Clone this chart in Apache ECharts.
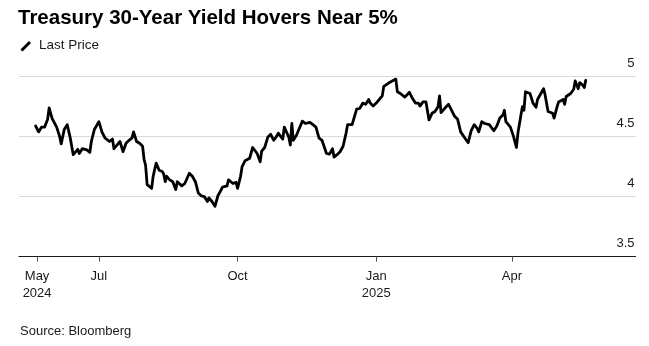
<!DOCTYPE html>
<html>
<head>
<meta charset="utf-8">
<script src="https://cdn.jsdelivr.net/npm/echarts@6/dist/echarts.min.js"></script>
<style>
  html, body { margin: 0; padding: 0; background: #fff; }
  #chart { width: 649px; height: 346px; }
</style>
</head>
<body>
<div id="chart"></div>
<script>
// US Treasury 30-year yield, last price (%)
const dates = [
  "2024-05-20","2024-05-22","2024-05-24","2024-05-26","2024-05-28","2024-05-29","2024-05-31","2024-06-03",
  "2024-06-05","2024-06-06","2024-06-07","2024-06-08","2024-06-10","2024-06-12","2024-06-14","2024-06-17",
  "2024-06-18","2024-06-20","2024-06-23","2024-06-25","2024-06-26","2024-06-28","2024-07-01","2024-07-03",
  "2024-07-05","2024-07-08","2024-07-10","2024-07-11","2024-07-13","2024-07-15","2024-07-17","2024-07-19",
  "2024-07-21","2024-07-23","2024-07-24","2024-07-26","2024-07-28","2024-07-30","2024-07-31","2024-08-01",
  "2024-08-02","2024-08-05","2024-08-06","2024-08-08","2024-08-10","2024-08-12","2024-08-13","2024-08-14",
  "2024-08-15","2024-08-17","2024-08-19","2024-08-21","2024-08-22","2024-08-25","2024-08-27","2024-08-30",
  "2024-09-01","2024-09-03","2024-09-05","2024-09-07","2024-09-09","2024-09-11","2024-09-12","2024-09-14",
  "2024-09-16","2024-09-18","2024-09-19","2024-09-21","2024-09-24","2024-09-25","2024-09-28","2024-09-30",
  "2024-10-01","2024-10-03","2024-10-04","2024-10-06","2024-10-09","2024-10-11","2024-10-14","2024-10-16",
  "2024-10-17","2024-10-19","2024-10-21","2024-10-23","2024-10-25","2024-10-27","2024-10-28","2024-10-31",
  "2024-11-01","2024-11-04","2024-11-05","2024-11-06","2024-11-07","2024-11-09","2024-11-11","2024-11-13",
  "2024-11-15","2024-11-18","2024-11-20","2024-11-22","2024-11-24","2024-11-26","2024-11-29","2024-12-01",
  "2024-12-03","2024-12-04","2024-12-06","2024-12-08","2024-12-10","2024-12-12","2024-12-13","2024-12-16",
  "2024-12-17","2024-12-19","2024-12-21","2024-12-22","2024-12-23","2024-12-25","2024-12-27","2024-12-28",
  "2024-12-30","2025-01-01","2025-01-03","2025-01-05","2025-01-06","2025-01-09","2025-01-11","2025-01-14",
  "2025-01-15","2025-01-17","2025-01-20","2025-01-23","2025-01-25","2025-01-27","2025-01-29","2025-01-30",
  "2025-02-01","2025-02-03","2025-02-05","2025-02-07","2025-02-09","2025-02-11","2025-02-12","2025-02-13",
  "2025-02-16","2025-02-18","2025-02-20","2025-02-22","2025-02-24","2025-02-26","2025-02-27","2025-03-01",
  "2025-03-03","2025-03-05","2025-03-07","2025-03-09","2025-03-10","2025-03-12","2025-03-14","2025-03-17",
  "2025-03-20","2025-03-22","2025-03-24","2025-03-26","2025-03-27","2025-03-28","2025-03-31","2025-04-02",
  "2025-04-04","2025-04-05","2025-04-07","2025-04-08","2025-04-09","2025-04-10","2025-04-13","2025-04-15",
  "2025-04-17","2025-04-18","2025-04-22","2025-04-23","2025-04-25","2025-04-28","2025-04-29","2025-05-01",
  "2025-05-02","2025-05-05","2025-05-06","2025-05-07","2025-05-08","2025-05-10","2025-05-12","2025-05-13",
  "2025-05-15","2025-05-16","2025-05-18","2025-05-19","2025-05-20"
];

const yields = [
  4.59, 4.54, 4.58, 4.58, 4.645, 4.74, 4.65, 4.58,
  4.50, 4.44, 4.445, 4.56, 4.60, 4.49, 4.35, 4.395,
  4.36, 4.40, 4.39, 4.37, 4.46, 4.56, 4.625, 4.54,
  4.49, 4.46, 4.48, 4.40, 4.43, 4.46, 4.375, 4.445,
  4.47, 4.49, 4.54, 4.46, 4.445, 4.42, 4.31, 4.26,
  4.10, 4.07, 4.17, 4.28, 4.22, 4.21, 4.19, 4.125,
  4.17, 4.14, 4.125, 4.06, 4.125, 4.09, 4.11, 4.195,
  4.17, 4.125, 4.03, 4.006, 4.00, 3.96, 3.99, 3.96,
  3.92, 4.01, 4.03, 4.08, 4.09, 4.14, 4.11, 4.12,
  4.07, 4.17, 4.25, 4.30, 4.32, 4.41, 4.36, 4.29,
  4.38, 4.41, 4.495, 4.52, 4.47, 4.505, 4.53, 4.48,
  4.58, 4.495, 4.43, 4.61, 4.47, 4.51, 4.57, 4.63,
  4.61, 4.62, 4.60, 4.58, 4.49, 4.47, 4.36, 4.355,
  4.40, 4.33, 4.35, 4.375, 4.42, 4.53, 4.60, 4.60,
  4.59, 4.73, 4.735, 4.755, 4.78, 4.77, 4.81, 4.78,
  4.755, 4.78, 4.81, 4.84, 4.92, 4.945, 4.96, 4.98,
  4.875, 4.86, 4.83, 4.87, 4.82, 4.78, 4.78, 4.755,
  4.79, 4.79, 4.64, 4.695, 4.71, 4.75, 4.84, 4.70,
  4.745, 4.77, 4.72, 4.67, 4.645, 4.54, 4.53, 4.485,
  4.45, 4.55, 4.60, 4.57, 4.54, 4.625, 4.61, 4.60,
  4.55, 4.59, 4.655, 4.68, 4.72, 4.625, 4.58, 4.505,
  4.41, 4.53, 4.68, 4.75, 4.72, 4.875, 4.86, 4.78,
  4.745, 4.81, 4.90, 4.85, 4.71, 4.695, 4.655, 4.75,
  4.79, 4.81, 4.77, 4.835, 4.85, 4.86, 4.895, 4.965,
  4.90, 4.95, 4.93, 4.91, 4.97
];

// x-axis tick positions and their labels
const tickDates = ["2024-05-21", "2024-07-01", "2024-10-01", "2025-01-01", "2025-04-01"];
const tickLabels = ["May\n2024", "Jul", "Oct", "Jan\n2025", "Apr"];

// y-axis tick values
const yTicks = [3.5, 4, 4.5, 5];

// visible time span of the x axis
const axisStart = "2024-05-09";
const axisEnd = "2025-06-22";

function toTime(s) {
  const p = s.split("-").map(Number);
  return Date.UTC(p[0], p[1] - 1, p[2]);
}

const tickTimes = tickDates.map(toTime);
const seriesData = dates.map((d, i) => [toTime(d), yields[i]]);

const FONT = "'Liberation Sans', Arial, Helvetica, sans-serif";

const chart = echarts.init(document.getElementById("chart"), null, { renderer: "canvas" });

chart.setOption({
  animation: false,
  backgroundColor: "#ffffff",
  textStyle: { fontFamily: FONT },
  grid: { left: 19, right: 13.5, top: 76.7, bottom: 89.3, containLabel: false },
  xAxis: {
    type: "value",
    min: toTime(axisStart),
    max: toTime(axisEnd),
    scale: true,
    axisLine: { show: true, lineStyle: { color: "#1a1a1a", width: 1.2 } },
    axisTick: {
      show: true,
      customValues: tickTimes,
      length: 5,
      lineStyle: { color: "#555", width: 1 }
    },
    axisLabel: {
      show: true,
      customValues: tickTimes,
      formatter: function (v) {
        const i = tickTimes.indexOf(v);
        return i >= 0 ? tickLabels[i] : "";
      },
      color: "#1a1a1a",
      fontSize: 13,
      lineHeight: 17,
      margin: 11,
      fontFamily: FONT,
      hideOverlap: false
    },
    splitLine: { show: false }
  },
  yAxis: {
    type: "value",
    position: "right",
    min: yTicks[0],
    max: yTicks[yTicks.length - 1],
    interval: 0.5,
    axisLine: { show: false },
    axisTick: { show: false },
    axisLabel: {
      inside: true,
      align: "right",
      verticalAlign: "bottom",
      margin: 1,
      padding: [0, 0, 7, 0],
      color: "#1a1a1a",
      fontSize: 13,
      fontFamily: FONT
    },
    splitLine: { show: true, lineStyle: { color: "#d9d9d9", width: 1 } }
  },
  series: [{
    name: "Last Price",
    type: "line",
    data: seriesData,
    showSymbol: false,
    symbol: "none",
    lineStyle: { color: "#000000", width: 2.8, join: "round", cap: "round" },
    z: 5
  }],
  graphic: [
    {
      type: "text",
      left: 18, top: 8,
      style: {
        text: "Treasury 30-Year Yield Hovers Near 5%",
        font: "bold 20.5px " + FONT,
        fill: "#000000"
      }
    },
    {
      type: "line",
      shape: { x1: 21.5, y1: 50.5, x2: 30, y2: 42 },
      style: { stroke: "#000000", lineWidth: 3, lineCap: "butt" }
    },
    {
      type: "text",
      left: 39, top: 38,
      style: {
        text: "Last Price",
        font: "13.5px " + FONT,
        fill: "#1a1a1a"
      }
    },
    {
      type: "text",
      left: 20, top: 324.5,
      style: {
        text: "Source: Bloomberg",
        font: "13px " + FONT,
        fill: "#1a1a1a"
      }
    }
  ]
});
</script>
</body>
</html>
